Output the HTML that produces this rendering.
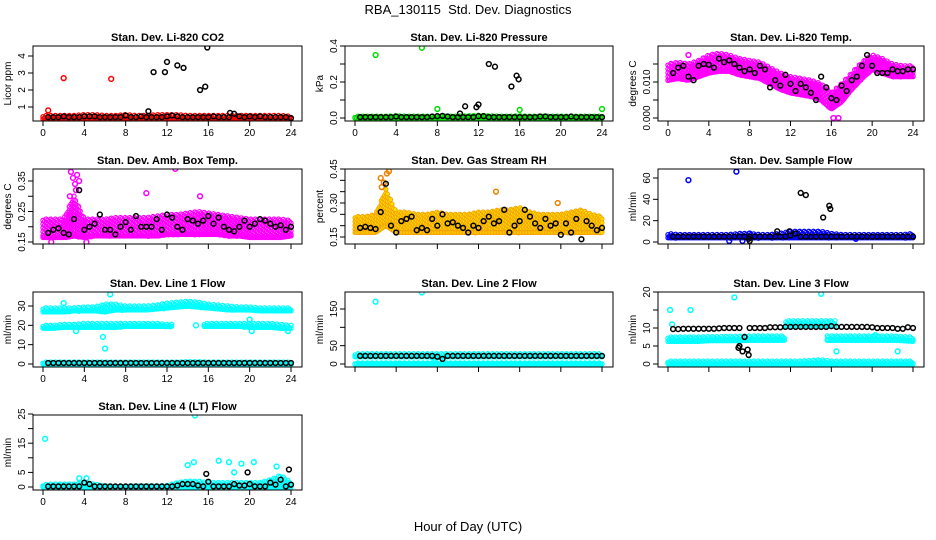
<!DOCTYPE html>
<html><head><meta charset="utf-8"><style>
html,body{margin:0;padding:0;background:#fff}
svg{display:block;font-family:"Liberation Sans",Arial,sans-serif}
</style></head><body>
<svg id="chart" width="936" height="540" viewBox="0 0 936 540">
<text x="468" y="14" text-anchor="middle" font-size="13">RBA_130115&#160; Std. Dev. Diagnostics</text>
<text x="468" y="531" text-anchor="middle" font-size="13">Hour of Day (UTC)</text>
</svg>
<script>
const hours=[0,1,2,3,4,5,6,7,8,9,10,11,12,13,14,15,16,17,18,19,20,21,22,23,24];
const halfHours=[0.5,1,1.5,2,2.5,3,3.5,4,4.5,5,5.5,6,6.5,7,7.5,8,8.5,9,9.5,10,10.5,11,11.5,12,12.5,13,13.5,14,14.5,15,15.5,16,16.5,17,17.5,18,18.5,19,19.5,20,20.5,21,21.5,22,22.5,23,23.5,24];
const xTicks=[0,4,8,12,16,20,24];
// CO2
const co2Lo=[0.3,0.3,0.3,0.3,0.3,0.3,0.3,0.3,0.3,0.3,0.3,0.3,0.3,0.3,0.3,0.3,0.3,0.3,0.3,0.3,0.3,0.3,0.3,0.3,0.3];
const co2Hi=[0.5,0.5,0.5,0.5,0.55,0.55,0.5,0.5,0.55,0.5,0.5,0.55,0.55,0.55,0.5,0.5,0.5,0.5,0.5,0.5,0.5,0.5,0.5,0.5,0.45];
const co2Black=[0.4,0.4,0.4,0.45,0.4,0.4,0.4,0.45,0.45,0.45,0.4,0.4,0.4,0.4,0.4,0.5,0.4,0.4,0.45,0.4,0.4,0.4,0.4,0.45,0.5,0.45,0.4,0.4,0.4,0.4,0.4,0.4,0.45,0.4,0.4,0.4,0.6,0.45,0.4,0.45,0.4,0.45,0.4,0.4,0.4,0.4,0.4,0.35];
const co2OutX=[0.5,2,6.6];const co2OutY=[0.8,2.7,2.65];
const co2ExX=[10.2,10.7,11.8,12,13,13.6,15.2,15.7,15.9,18.1];const co2ExY=[0.75,3.05,3.05,3.65,3.45,3.3,2.0,2.2,4.5,0.65];
// Pressure
const prLo=[0,0,0,0,0,0,0,0,0,0,0,0,0,0,0,0,0,0,0,0,0,0,0,0,0];
const prHi=[0.01,0.01,0.01,0.01,0.012,0.01,0.01,0.01,0.01,0.01,0.01,0.012,0.015,0.012,0.01,0.01,0.012,0.01,0.01,0.01,0.01,0.01,0.01,0.01,0.01];
const prBlack=[0.005,0.005,0.005,0.005,0.005,0.005,0.005,0.008,0.005,0.005,0.005,0.005,0.005,0.005,0.008,0.01,0.012,0.008,0.005,0.005,0.005,0.005,0.005,0.01,0.01,0.005,0.005,0.005,0.005,0.005,0.005,0.005,0.005,0.005,0.005,0.008,0.008,0.005,0.005,0.005,0.005,0.008,0.005,0.005,0.005,0.005,0.005,0.005];
const prOutX=[2,6.5,8,16,24];const prOutY=[0.35,0.39,0.05,0.045,0.05];
const prExX=[10.2,10.7,11.8,12,13,13.6,15.2,15.7,15.9];const prExY=[0.025,0.065,0.06,0.075,0.3,0.285,0.175,0.235,0.215];
// Li-820 temp
const tmLo=[0.0105,0.011,0.0105,0.0115,0.0125,0.013,0.013,0.012,0.0115,0.011,0.0095,0.008,0.007,0.0065,0.006,0.005,0.0025,0.0045,0.008,0.011,0.0135,0.0125,0.0115,0.0115,0.0115];
const tmHi=[0.015,0.0155,0.015,0.016,0.0175,0.018,0.0175,0.0165,0.016,0.0155,0.014,0.0125,0.0115,0.011,0.0105,0.0095,0.007,0.0095,0.0125,0.0155,0.0175,0.0165,0.015,0.0145,0.0145];
const tmBlack=[0.0125,0.014,0.0145,0.0115,0.0105,0.0145,0.015,0.0148,0.014,0.0165,0.0155,0.016,0.015,0.014,0.013,0.0135,0.0125,0.0145,0.0135,0.0085,0.0105,0.009,0.012,0.0095,0.0075,0.0095,0.0085,0.007,0.005,0.0115,0.0085,0.0055,0.005,0.009,0.0075,0.0105,0.0115,0.0145,0.0175,0.0145,0.0125,0.0125,0.0125,0.0135,0.013,0.013,0.0135,0.0135];
const tmOutX=[2,16.2,16.7];const tmOutY=[0.0175,0,0];
// Amb box temp
const abLo=[0.165,0.165,0.165,0.17,0.165,0.17,0.17,0.17,0.17,0.17,0.17,0.17,0.175,0.175,0.175,0.175,0.175,0.175,0.17,0.17,0.165,0.165,0.165,0.165,0.17];
const abHi=[0.225,0.225,0.225,0.3,0.225,0.225,0.225,0.23,0.23,0.23,0.23,0.235,0.24,0.24,0.245,0.25,0.245,0.24,0.235,0.23,0.225,0.225,0.225,0.225,0.22];
const abBlack=[0.18,0.19,0.195,0.18,0.175,0.225,0.32,0.19,0.2,0.21,0.24,0.19,0.19,0.175,0.2,0.215,0.19,0.235,0.2,0.2,0.2,0.225,0.19,0.24,0.23,0.2,0.19,0.225,0.22,0.21,0.22,0.235,0.21,0.23,0.2,0.19,0.185,0.2,0.22,0.2,0.21,0.225,0.22,0.21,0.2,0.205,0.19,0.2];
const abOutX=[2.7,2.9,3.1,3.3,3.5,3.2,12.8,0.8,4.2,15.2,10,2.6];const abOutY=[0.38,0.36,0.34,0.37,0.35,0.32,0.39,0.15,0.15,0.3,0.31,0.3];
// Gas stream RH
const rhLo=[0.17,0.17,0.17,0.2,0.17,0.17,0.17,0.17,0.17,0.17,0.17,0.17,0.17,0.17,0.17,0.17,0.17,0.17,0.17,0.17,0.17,0.17,0.17,0.17,0.17];
const rhHi=[0.24,0.24,0.25,0.36,0.26,0.26,0.25,0.25,0.26,0.25,0.25,0.25,0.26,0.26,0.27,0.27,0.28,0.26,0.25,0.25,0.25,0.26,0.27,0.25,0.24];
const rhBlack=[0.19,0.195,0.19,0.185,0.26,0.385,0.2,0.17,0.22,0.23,0.24,0.18,0.19,0.18,0.23,0.2,0.25,0.21,0.215,0.2,0.19,0.17,0.2,0.19,0.22,0.24,0.21,0.22,0.27,0.17,0.2,0.22,0.27,0.24,0.21,0.19,0.23,0.2,0.21,0.16,0.21,0.17,0.23,0.14,0.22,0.2,0.18,0.19];
const rhOutX=[13.7,2.5,2.8,3.1,3.3,2.6,19.7];const rhOutY=[0.35,0.41,0.39,0.43,0.44,0.37,0.3];
// Sample flow
const sfLo=[4,4,4,4,4,4,4,4,4,4,4,4,4,4,4,4,4,4,4,4,4,4,4,4,4];
const sfHi=[8,7,7,7,7,7,7,8,8,7,7,8,10,10,10,10,8,7,7,7,7,7,7,7,8];
const sfBlack=[5,5,5,5,5,5,5,5,5,5,5,5,5,5,5,5,5,5,5,5,5,5,5,6,8,5,5,5,5,5,5,5,5,5,5,5,5,5,5,5,5,5,5,5,5,5,5,5];
const sfOutX=[2,6.7,6,8,7.3,18.4];const sfOutY=[58,66,1,8,1,3];
const sfExX=[13,13.5,15.2,15.8,15.9,7.9,8,10.7,11.9];const sfExY=[46,44,23,34,31,3,1,10,10];
// Line 1 flow
const l1aLo=[27,27,27,27.5,27.5,27.5,27,28,28,28,28,28.5,29,29.5,30,29.5,29,28.5,28,28,28,27.5,27.5,27.5,27.5];
const l1aHi=[29,29,29,29,29.5,29.5,31,31,30,30,30,30.5,31.5,32,32.5,32,31,30.5,30,29.5,29.5,29,29,29,29];
const l1bLo=[18.5,18.5,19,19,19,19,19,19,19.5,19.5,19.5,19.5,19.5,null,null,null,19.5,19.5,19.5,19.5,19,19,19,18.5,18.5];
const l1bHi=[20,20,20.5,20.5,21,21,21,21,21,21,21,21,20.5,null,null,null,21,21,21,21,21,21,21,20.5,20];
const l1cLo=[0,0,0,0,0,0,0,0,0,0,0,0,0,0,0,0,0,0,0,0,0,0,0,0,0];
const l1cHi=[1,1,1,1,1,1,1,1,1,1,1,1,1,1,1.2,1.2,1,1,1,1,1,1,1,1,1];
const l1Black=[0.5,0.5,0.5,0.5,0.5,0.5,0.5,0.5,0.5,0.5,0.5,0.5,0.5,0.5,0.5,0.5,0.5,0.5,0.5,0.5,0.5,0.5,0.5,0.5,0.5,0.5,0.5,0.5,0.5,0.5,0.5,0.5,0.5,0.5,0.5,0.5,0.5,0.5,0.5,0.5,0.5,0.5,0.5,0.5,0.5,0.5,0.5,0.5];
const l1OutX=[6.5,6,5.8,2,14.8,20,20.2,23.7,3.2];const l1OutY=[36,8,14,31.5,20,23,17,17,17];
// Line 2 flow
const l2aLo=[0,0,0,0,0,0,0,0,0,0,0,0,0,0,0,0,0,0,0,0,0,0,0,0,0];
const l2aHi=[3,3,3,3,3,3,3,3,3,3,3,3,3,3,3,3,3,3,3,3,3,3,3,3,3];
const l2bLo=[20,20,20,20,20,20,20,20,18,20,20,20,20,20,20,20,20,20,20,20,20,20,20,20,20];
const l2bHi=[28,28,28,28,28,28,28,28,28,28,28,28,28,28,28,28,28,28,28,28,28,28,28,28,28];
const l2Black=[22,22,22,22,22,22,22,22,22,22,22,22,22,22,22,20,14,22,22,22,22,22,22,22,22,22,22,22,22,22,22,22,22,22,22,22,22,22,22,22,22,22,22,22,22,22,22,22];
const l2OutX=[2,6.5,7.8];const l2OutY=[170,195,5];
// Line 3 flow
const l3aLo=[0,0,0,0,0,0,0,0,0,0,0,0,0,0,0,0,0,0,0,0,0,0,0,0,0];
const l3aHi=[0.8,0.8,0.8,0.8,0.8,0.8,0.8,0.8,0.8,0.8,0.8,0.8,0.8,0.8,1,1.2,0.8,0.8,0.8,0.8,0.8,0.8,0.8,0.8,0.8];
const l3bLo=[6.3,6.3,6.3,6.3,6.5,6.5,6.5,6.5,6.6,6.6,6.6,6.6,null,null,null,null,6.6,6.6,6.6,6.6,6.6,6.6,6.6,6.5,6.3];
const l3bHi=[7.5,7.5,7.5,7.5,7.6,7.6,7.7,7.7,7.8,7.8,7.8,7.8,null,null,null,null,7.8,7.8,7.8,7.8,7.8,7.8,7.8,7.6,7.5];
const l3cLo=[null,null,null,null,null,null,null,null,null,null,null,null,10.5,10.5,10.5,10.5,10.5,null,null,null,null,null,null,null,null];
const l3cHi=[null,null,null,null,null,null,null,null,null,null,null,null,12,12,12,12,12,null,null,null,null,null,null,null,null];
const l3Black=[9.7,9.7,9.8,9.8,9.8,9.8,9.8,9.8,9.8,9.9,10,10,10,10,7.5,10,10,10,10,10.2,10.2,10.2,10.3,10.3,10.3,10.3,10.3,10.3,10.3,10.3,10.3,10.5,10.3,10.3,10.3,10.3,10.3,10.3,10.3,10.2,10,10,10,10,9.8,9.8,10.2,10];
const l3ExX=[7,7.8,7.9,6.9,7.3];const l3ExY=[5,4,2.5,4.5,3.5];
const l3OutX=[0.2,2.2,6.5,15,0.4,16.5,22.5,20.3];const l3OutY=[15,15,18.5,19.5,11,3.5,3.5,8];
// Line 4 flow
const l4Lo=[0,0,0,0,0,0,0,0,0,0,0,0,0,0,0,0,0,0,0,0,0,0,0,0,0];
const l4Hi=[0.8,1,1,1,1.5,1,0.3,0.3,0.3,0.3,0.3,0.3,0.5,1.5,2,2,1.5,1.5,1.5,1.5,1.5,1.5,2.5,4,1.5];
const l4Black=[0.2,0.2,0.2,0.2,0.2,0.2,0.2,1.5,1,0.2,0.2,0.2,0.2,0.2,0.2,0.2,0.2,0.2,0.2,0.2,0.2,0.2,0.2,0.2,0.2,0.5,1,1,1,0.5,0.2,1.8,0.2,0.2,0.2,0.2,1,0.5,0.5,1,0.2,0.2,0.2,1.5,0.8,2.5,0.2,0.8];
const l4OutX=[0.2,14.7,14,14.6,17,18,19.2,20.4,22.6,3.5,4.2,18.5];const l4OutY=[16.5,24.5,7.5,8.5,9,8.5,8,8.5,7,3,3,5];
const l4ExX=[15.8,19.8,23.8];const l4ExY=[4.5,5,6];

const NS="http://www.w3.org/2000/svg";
const svg=document.getElementById('chart');
function el(tag,attrs,parent){const e=document.createElementNS(NS,tag);for(const k in attrs)e.setAttribute(k,attrs[k]);(parent||svg).appendChild(e);return e;}
const cols=[[33,302],[345,613],[658,924]];
const rows=[[46,121],[169,244],[292,367],[415,490]];

function panel(c,r,title,ylab,yv1,yp1,yv2,yp2,yTicks,yLabels,pname){
  const g=el('g',{});
  
  
  const [L,R]=cols[c],[T,B]=rows[r];
  const xs=h=>L+10+h*(R-L-21)/24;
  const ys=v=>yp1+(v-yv1)*(yp2-yp1)/(yv2-yv1);
  const clip='clip'+c+r;
  const cp=el('clipPath',{id:clip},g);el('rect',{x:L,y:T,width:R-L,height:B-T},cp);
  const plot=el('g',{'clip-path':'url(#'+clip+')'},g);
  const t=el('text',{x:(L+R)/2,y:T-5,'text-anchor':'middle','font-size':11,'font-weight':'bold'},g);t.textContent=title;
  
  
  const yl=el('text',{x:0,y:0,transform:`translate(${L-22},${(T+B)/2}) rotate(-90)`,'text-anchor':'middle','font-size':10},g);yl.textContent=ylab;
  
  
  el('line',{x1:xs(0),x2:xs(24),y1:B,y2:B,stroke:'#000','stroke-width':1},g);
  xTicks.forEach(h=>{el('line',{x1:xs(h),x2:xs(h),y1:B,y2:B+5,stroke:'#000'},g);
    if((r===0)||(r===2&&c===0)||(r===3)){const tx=el('text',{x:xs(h),y:B+15,'text-anchor':'middle','font-size':10},g);tx.textContent=h;
    
    }});
  el('line',{x1:L,x2:L,y1:ys(yTicks[0]),y2:ys(yTicks[yTicks.length-1]),stroke:'#000'},g);
  yTicks.forEach((v,i)=>{el('line',{x1:L-5,x2:L,y1:ys(v),y2:ys(v),stroke:'#000'},g);
    if(yLabels[i]!==''){const tx=el('text',{x:0,y:0,transform:`translate(${L-8},${ys(v)}) rotate(-90)`,'text-anchor':'middle','font-size':10},g);tx.textContent=yLabels[i];
    
    }});
  const api={
    band(lo,hi,col,fill,sw){
      sw=sw||1.2;
      let k=0;
      for(let h=0;h<=24.001;h+=0.15){
        const i=Math.min(23,Math.floor(h)),f=h-i;
        let l,u;
        if(lo[i]==null&&lo[i+1]==null)continue;
        if(lo[i]==null){if(f<0.5)continue;l=lo[i+1];u=hi[i+1];}
        else if(lo[i+1]==null){if(f>=0.5)continue;l=lo[i];u=hi[i];}
        else{l=lo[i]+(lo[i+1]-lo[i])*f;u=hi[i]+(hi[i+1]-hi[i])*f;}
        const pTop=ys(u),pBot=ys(l);k++;
        const off=(k%3)*1.2;
        for(let y=pTop+off;y<=pBot+0.5;y+=3.8){
          const ci=el('circle',{cx:xs(h),cy:y,r:2.1,fill:fill||'none',stroke:col,'stroke-width':sw},plot);
          
          
        }
        const ce=el('circle',{cx:xs(h),cy:pBot,r:2.1,fill:fill||'none',stroke:col,'stroke-width':sw},plot);
        
        
      }},
    pts(xa,ya,col,nm){xa.forEach((x,i)=>{const ci=el('circle',{cx:xs(x),cy:ys(ya[i]),r:2.4,fill:'none',stroke:col,'stroke-width':1.5},plot);
      
      });}
  };
  el('rect',{x:L,y:T,width:R-L,height:B-T,fill:'none',stroke:'#000','stroke-width':1},g);
  return api;
}
const RED='#ff0000',GRN='#00e000',MAG='#ff00ff',BLU='#0000ff',CYA='#00ffff',BLK='#000';
let p;
p=panel(0,0,'Stan. Dev. Li-820 CO2','Licor ppm',1,107,4,56,[1,2,3,4],['1','2','3','4'],'co2');
p.band(co2Lo,co2Hi,RED);p.pts(co2OutX,co2OutY,RED,'outlier');p.pts(halfHours,co2Black,BLK,'black-point');p.pts(co2ExX,co2ExY,BLK,'black-outlier');
p=panel(1,0,'Stan. Dev. Li-820 Pressure','kPa',0,118,0.4,46,[0,0.1,0.2,0.3,0.4],['0.0','','0.2','','0.4'],'pressure');
p.band(prLo,prHi,GRN);p.pts(prOutX,prOutY,GRN,'outlier');p.pts(halfHours,prBlack,BLK,'black-point');p.pts(prExX,prExY,BLK,'black-outlier');
p=panel(2,0,'Stan. Dev. Li-820 Temp.','degrees C',0,118,0.01,82,[0,0.005,0.01,0.015],['0.000','','0.010',''],'li820-temp');
p.band(tmLo,tmHi,MAG);p.pts(tmOutX,tmOutY,MAG,'outlier');p.pts(halfHours,tmBlack,BLK,'black-point');
p=panel(0,1,'Stan. Dev. Amb. Box Temp.','degrees C',0.15,242,0.35,181,[0.15,0.2,0.25,0.3,0.35],['0.15','','0.25','','0.35'],'amb-box-temp');
p.band(abLo,abHi,MAG);p.pts(abOutX,abOutY,MAG,'outlier');p.pts(halfHours,abBlack,BLK,'black-point');
p=panel(1,1,'Stan. Dev. Gas Stream RH','percent',0.15,237,0.45,169,[0.15,0.2,0.25,0.3,0.35,0.4,0.45],['0.15','','','0.30','','','0.45'],'gas-rh');
p.band(rhLo,rhHi,'#f5a000','#ffe000',0.9);p.pts(rhOutX,rhOutY,'#f08000','outlier');p.pts(halfHours,rhBlack,BLK,'black-point');
p=panel(2,1,'Stan. Dev. Sample Flow','ml/min',0,242,60,178,[0,20,40,60],['0','20','40','60'],'sample-flow');
p.band(sfLo,sfHi,BLU);p.pts(sfOutX,sfOutY,BLU,'outlier');p.pts(halfHours,sfBlack,BLK,'black-point');p.pts(sfExX,sfExY,BLK,'black-outlier');
p=panel(0,2,'Stan. Dev. Line 1 Flow','ml/min',0,364,30,306,[0,10,20,30],['0','10','20','30'],'line1-flow');
p.band(l1aLo,l1aHi,CYA);p.band(l1bLo,l1bHi,CYA);p.band(l1cLo,l1cHi,CYA);p.pts(l1OutX,l1OutY,CYA,'outlier');p.pts(halfHours,l1Black,BLK,'black-point');
p=panel(1,2,'Stan. Dev. Line 2 Flow','ml/min',0,364,150,309,[0,50,100,150],['0','50','','150'],'line2-flow');
p.band(l2aLo,l2aHi,CYA);p.band(l2bLo,l2bHi,CYA);p.pts(l2OutX,l2OutY,CYA,'outlier');p.pts(halfHours,l2Black,BLK,'black-point');
p=panel(2,2,'Stan. Dev. Line 3 Flow','ml/min',0,364,20,292,[0,5,10,15,20],['0','5','10','','20'],'line3-flow');
p.band(l3aLo,l3aHi,CYA);p.band(l3bLo,l3bHi,CYA);p.band(l3cLo,l3cHi,CYA);p.pts(l3OutX,l3OutY,CYA,'outlier');p.pts(halfHours,l3Black,BLK,'black-point');p.pts(l3ExX,l3ExY,BLK,'black-outlier');
p=panel(0,3,'Stan. Dev. Line 4 (LT) Flow','ml/min',0,487,25,414,[0,5,10,15,20,25],['0','5','','15','','25'],'line4-flow');
p.band(l4Lo,l4Hi,CYA);p.pts(l4OutX,l4OutY,CYA,'outlier');p.pts(halfHours,l4Black,BLK,'black-point');p.pts(l4ExX,l4ExY,BLK,'black-outlier');
</script>
</body></html>
